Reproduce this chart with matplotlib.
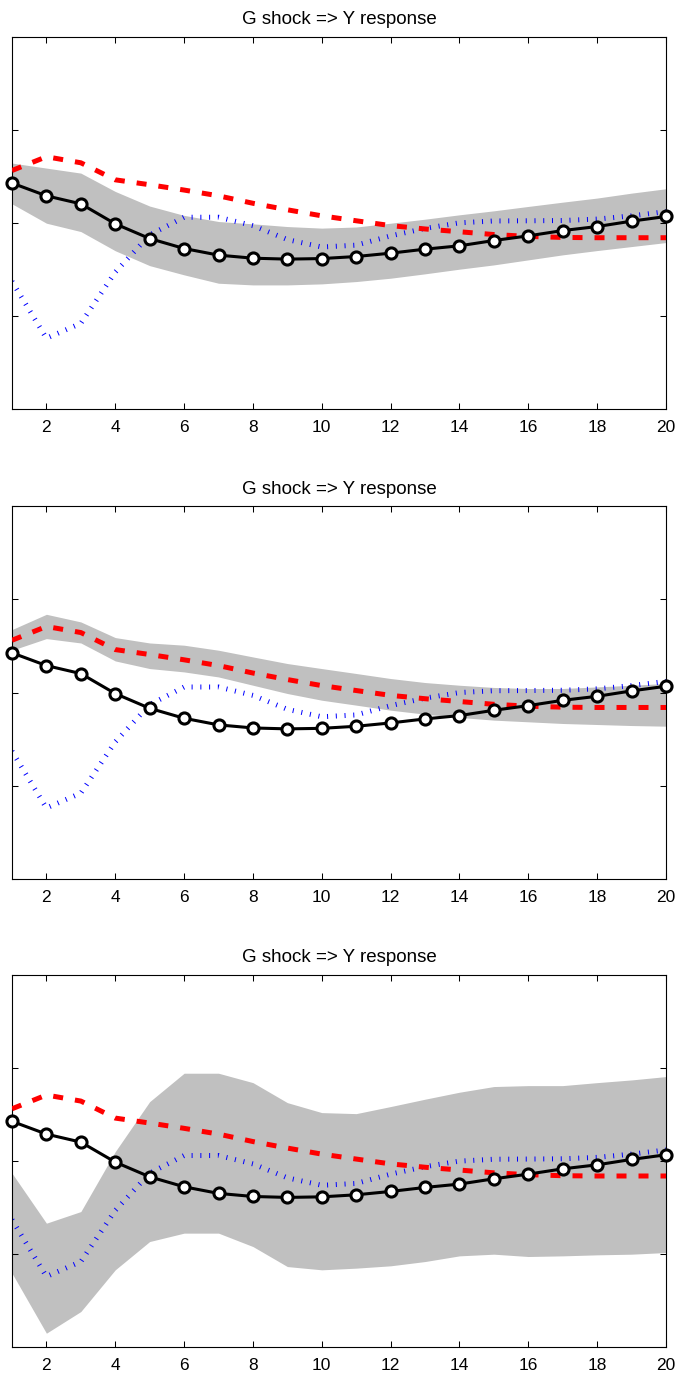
import matplotlib

matplotlib.use("Agg")
import matplotlib.pyplot as plt
import numpy as np

# Impulse response horizon
horizon = list(range(1, 21))

# Point estimate (black line with circles), same in every panel
point_estimate = [0.427, 0.290, 0.204, -0.011, -0.169, -0.276, -0.347, -0.380, -0.390, -0.384,
                  -0.362, -0.326, -0.283, -0.247, -0.190, -0.140, -0.083, -0.040, 0.018, 0.068]

# Red dashed comparison response
red_response = [0.562, 0.710, 0.645, 0.462, 0.409, 0.352, 0.290, 0.210, 0.140, 0.075,
                0.022, -0.030, -0.066, -0.096, -0.126, -0.146, -0.157, -0.160, -0.160, -0.160]

# Blue dotted comparison response
blue_response = [-0.63, -1.24, -1.08, -0.53, -0.13, 0.06, 0.06, -0.03, -0.18, -0.26,
                 -0.24, -0.14, -0.06, 0.00, 0.02, 0.022, 0.025, 0.04, 0.075, 0.12]

# Confidence bands, one pair per panel
band1_upper = [0.642, 0.588, 0.534, 0.337, 0.180, 0.080, 0.014, -0.011, -0.040, -0.057,
               -0.045, -0.004, 0.039, 0.086, 0.129, 0.176, 0.222, 0.266, 0.319, 0.366]
band1_lower = [0.204, -0.004, -0.094, -0.300, -0.460, -0.559, -0.649, -0.667, -0.667, -0.656,
               -0.631, -0.595, -0.548, -0.498, -0.452, -0.398, -0.344, -0.298, -0.255, -0.212]

band2_upper = [0.677, 0.841, 0.759, 0.591, 0.533, 0.509, 0.455, 0.383, 0.312, 0.258,
               0.205, 0.151, 0.108, 0.079, 0.055, 0.044, 0.044, 0.061, 0.079, 0.098]
band2_lower = [0.455, 0.580, 0.533, 0.340, 0.258, 0.222, 0.168, 0.079, -0.010, -0.082,
               -0.135, -0.189, -0.232, -0.267, -0.296, -0.314, -0.332, -0.343, -0.354, -0.361]

band3_upper = [-0.130, -0.667, -0.542, 0.102, 0.639, 0.944, 0.944, 0.843, 0.628, 0.521,
               0.510, 0.586, 0.665, 0.740, 0.801, 0.811, 0.811, 0.843, 0.872, 0.908]
band3_lower = [-1.204, -1.849, -1.616, -1.168, -0.864, -0.774, -0.774, -0.918, -1.133, -1.168,
               -1.150, -1.125, -1.079, -1.018, -1.000, -1.025, -1.018, -1.007, -1.000, -0.982]

panel_title = "G shock => Y response"
x_ticks = [2, 4, 6, 8, 10, 12, 14, 16, 18, 20]
y_ticks = [-2, -1, 0, 1, 2]


def draw_panel(ax, lower, upper):
    x = np.array(horizon)
    ax.fill_between(x, lower, upper, color="#c0c0c0", linewidth=0, zorder=1)
    ax.plot(x, blue_response, color="blue", linewidth=3.6,
            dashes=(0.2, 1.55), dash_capstyle="butt", zorder=2)
    ax.plot(x, red_response, color="red", linewidth=3.6,
            dashes=(2.0, 2.4), dash_capstyle="butt", zorder=3)
    ax.plot(x, point_estimate, color="black", linewidth=2.2, marker="o",
            markersize=8, markerfacecolor="white", markeredgecolor="black",
            markeredgewidth=2.2, zorder=4, clip_on=False)

    ax.set_xlim(1, 20)
    ax.set_ylim(-2, 2)
    ax.set_xticks(x_ticks)
    ax.set_yticks(y_ticks)
    ax.set_yticklabels([])
    ax.tick_params(direction="in", length=4.5, width=0.75, top=True, right=True,
                   labelsize=12.5, pad=8)
    for spine in ax.spines.values():
        spine.set_linewidth(0.8)
    ax.set_title(panel_title, fontsize=13.5, pad=9)


def main() -> None:
    plt.rcParams["font.family"] = ["Liberation Sans", "DejaVu Sans"]
    fig = plt.figure(figsize=(6.78, 13.78), dpi=100)

    left = 12 / 678
    width = 654 / 678
    panel_bottoms = [0.7032, 0.3623, 0.0223]
    height = 0.2702
    bands = [(band1_lower, band1_upper), (band2_lower, band2_upper), (band3_lower, band3_upper)]

    for bottom, (lower, upper) in zip(panel_bottoms, bands):
        ax = fig.add_axes([left, bottom, width, height])
        draw_panel(ax, lower, upper)

    fig.savefig("out.png", dpi=100)


if __name__ == "__main__":
    main()
